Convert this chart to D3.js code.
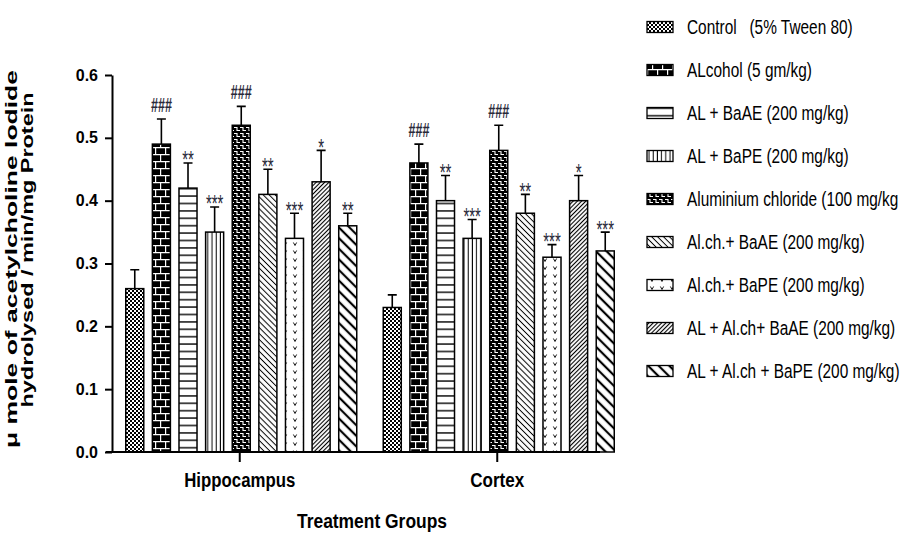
<!DOCTYPE html>
<html>
<head>
<meta charset="utf-8">
<script src="https://cdn.jsdelivr.net/npm/d3@7/dist/d3.min.js"></script>
<style>
  html, body { margin: 0; padding: 0; background: #fff; }
  svg { display: block; font-family: "Liberation Sans", Arial, sans-serif; }
</style>
</head>
<body>
<svg id="chart" width="905" height="533"></svg>
<script>
// Brain regions on the x axis
const groups = ["Hippocampus", "Cortex"];

// Treatment groups (legend order)
const seriesNames = [
  "Control   (5% Tween 80)",
  "ALcohol (5 gm/kg)",
  "AL + BaAE (200 mg/kg)",
  "AL + BaPE (200 mg/kg)",
  "Aluminium chloride (100 mg/kg",
  "Al.ch.+ BaAE (200 mg/kg)",
  "Al.ch.+ BaPE (200 mg/kg)",
  "AL + Al.ch+ BaAE (200 mg/kg)",
  "AL + Al.ch + BaPE (200 mg/kg)"
];

// AChE activity, mean and SEM per treatment
const hippocampusMean = [0.26, 0.49, 0.42, 0.35, 0.52, 0.41, 0.34, 0.43, 0.36];
const hippocampusSem  = [0.03, 0.04, 0.04, 0.04, 0.03, 0.04, 0.04, 0.05, 0.02];
const cortexMean      = [0.23, 0.46, 0.40, 0.34, 0.48, 0.38, 0.31, 0.40, 0.32];
const cortexSem       = [0.02, 0.03, 0.04, 0.03, 0.04, 0.03, 0.02, 0.04, 0.03];

// Significance marks above the error bars
const hippocampusSig = ["", "###", "**", "***", "###", "**", "***", "*", "**"];
const cortexSig      = ["", "###", "**", "***", "###", "**", "***", "*", "***"];

const yTicks = [0, 0.1, 0.2, 0.3, 0.4, 0.5, 0.6];

const rows = [];
groups.forEach((g, gi) => {
  const mean = gi === 0 ? hippocampusMean : cortexMean;
  const sem = gi === 0 ? hippocampusSem : cortexSem;
  const sig = gi === 0 ? hippocampusSig : cortexSig;
  seriesNames.forEach((s, si) => {
    rows.push({ group: g, series: s, idx: si, mean: mean[si], sem: sem[si], sig: sig[si] });
  });
});

const svg = d3.select("#chart");
const defs = svg.append("defs");

function pattern(id, w, h, transform) {
  const p = defs.append("pattern")
    .attr("id", id)
    .attr("patternUnits", "userSpaceOnUse")
    .attr("width", w).attr("height", h);
  if (transform) p.attr("patternTransform", transform);
  return p;
}

// 0: fine checkerboard
{
  const p = pattern("pat0", 4, 4);
  p.append("rect").attr("width", 4).attr("height", 4).attr("fill", "#000");
  p.append("rect").attr("width", 2).attr("height", 2).attr("fill", "#fff");
  p.append("rect").attr("x", 2).attr("y", 2).attr("width", 2).attr("height", 2).attr("fill", "#fff");
}
// 1: brick
{
  const p = pattern("pat1", 10, 14);
  p.append("rect").attr("width", 10).attr("height", 14).attr("fill", "#000");
  p.append("path").attr("d", "M0,0.6H10M0,7.6H10M0.6,0V7M5.6,7V14")
    .attr("stroke", "#fff").attr("stroke-width", 1.2).attr("fill", "none");
}
// 2: horizontal lines
{
  const p = pattern("pat2", 10, 7.4);
  p.append("rect").attr("width", 10).attr("height", 7.4).attr("fill", "#fff");
  p.append("path").attr("d", "M0,3.7H10").attr("stroke", "#000").attr("stroke-width", 1.4);
}
// 3: vertical lines
{
  const p = pattern("pat3", 4.2, 10);
  p.append("rect").attr("width", 4.2).attr("height", 10).attr("fill", "#fff");
  p.append("path").attr("d", "M2,0V10").attr("stroke", "#000").attr("stroke-width", 1);
}
// 4: dark weave
{
  const p = pattern("pat4", 6, 6);
  p.append("rect").attr("width", 6).attr("height", 6).attr("fill", "#000");
  p.append("path").attr("d", "M0,1.5H3V4.5H6").attr("stroke", "#fff").attr("stroke-width", 1.1).attr("fill", "none");
}
// 5: thin back-diagonal
{
  const p = pattern("pat5", 4.2, 4.2, "rotate(-45)");
  p.append("rect").attr("width", 4.2).attr("height", 4.2).attr("fill", "#fff");
  p.append("path").attr("d", "M2.1,0V4.2").attr("stroke", "#000").attr("stroke-width", 1);
}
// 6: scattered v marks
{
  const p = pattern("pat6", 10, 8);
  p.append("rect").attr("width", 10).attr("height", 8).attr("fill", "#fff");
  p.append("path").attr("d", "M3.4,2.5L5,5.5L6.6,2.5").attr("stroke", "#000").attr("stroke-width", 0.9).attr("fill", "none");
}
// 7: dense forward-diagonal
{
  const p = pattern("pat7", 3, 3, "rotate(45)");
  p.append("rect").attr("width", 3).attr("height", 3).attr("fill", "#fff");
  p.append("path").attr("d", "M1.5,0V3").attr("stroke", "#000").attr("stroke-width", 1.1);
}
// 8: wide back-diagonal
{
  const p = pattern("pat8", 7.5, 7.5, "rotate(-45)");
  p.append("rect").attr("width", 7.5).attr("height", 7.5).attr("fill", "#fff");
  p.append("path").attr("d", "M3.75,0V7.5").attr("stroke", "#000").attr("stroke-width", 2.2);
}

const fillFor = i => `url(#pat${i})`;

// Scales
const y = d3.scaleLinear().domain([0, 0.6]).range([452, 75]);
const x0 = d3.scaleBand().domain(groups).range([111, 626]);
const x1 = d3.scaleBand().domain(seriesNames).range([-114, 117]).paddingInner(0.323);
const center = g => x0(g) + x0.bandwidth() / 2;
const barMid = d => center(d.group) + x1(d.series) + x1.bandwidth() / 2;

// Bars
const bars = svg.append("g");
bars.selectAll("rect").data(rows).join("rect")
  .attr("x", d => center(d.group) + x1(d.series))
  .attr("y", d => y(d.mean))
  .attr("width", x1.bandwidth())
  .attr("height", d => y(0) - y(d.mean))
  .attr("fill", d => fillFor(d.idx))
  .attr("stroke", "#000")
  .attr("stroke-width", 1.5);

// Error bars (upper only)
const err = svg.append("g").attr("stroke", "#000").attr("stroke-width", 1.6).attr("fill", "none");
err.selectAll("path").data(rows).join("path")
  .attr("d", d => {
    const cx = barMid(d);
    const top = y(d.mean + d.sem);
    return `M${cx},${y(d.mean)}V${top}M${cx - 4.5},${top}H${cx + 4.5}`;
  });

// Significance labels (tall, narrow glyphs)
svg.append("g").selectAll("text").data(rows.filter(d => d.sig)).join("text")
  .attr("transform", d => {
    const top = y(d.mean + d.sem);
    const base = d.sig[0] === "#" ? top - 7 : top + 5.5;
    return `translate(${barMid(d)},${base}) scale(1,1.6)`;
  })
  .attr("text-anchor", "middle")
  .attr("font-size", d => d.sig[0] === "#" ? 12.6 : 15)
  .attr("font-weight", d => d.sig[0] === "#" ? "bold" : "normal")
  .attr("fill", "#2a2a3a")
  .text(d => d.sig);

// Y axis
const yAxis = svg.append("g").attr("transform", "translate(112,0)")
  .call(d3.axisLeft(y).tickValues(yTicks).tickFormat(d3.format(".1f")).tickSize(7).tickSizeOuter(0));
yAxis.select(".domain").attr("stroke-width", 2);
yAxis.selectAll(".tick line").attr("stroke-width", 2);
yAxis.selectAll(".tick text")
  .attr("x", -14)
  .attr("font-size", 16)
  .attr("font-weight", "bold")
  .attr("font-family", "Liberation Sans, Arial, sans-serif")
  .attr("fill", "#000");

// X axis
const xAxis = svg.append("g").attr("transform", "translate(0,452)")
  .call(d3.axisBottom(x0).tickSize(10).tickSizeOuter(0).tickPadding(14));
xAxis.select(".domain").attr("d", "M106,0H600").attr("stroke-width", 2.2);
xAxis.selectAll(".tick line").attr("stroke-width", 2);
const groupWidths = { "Hippocampus": 111, "Cortex": 54 };
xAxis.selectAll(".tick text")
  .attr("y", 35)
  .attr("dy", 0)
  .attr("font-size", 20)
  .attr("font-weight", "bold")
  .attr("font-family", "Liberation Sans, Arial, sans-serif")
  .attr("fill", "#000")
  .attr("textLength", d => groupWidths[d])
  .attr("lengthAdjust", "spacingAndGlyphs");

// Axis titles
svg.append("text")
  .attr("x", 372).attr("y", 528)
  .attr("text-anchor", "middle")
  .attr("font-size", 20).attr("font-weight", "bold")
  .attr("textLength", 150).attr("lengthAdjust", "spacingAndGlyphs")
  .text("Treatment Groups");

const yTitle = svg.append("g");
yTitle.append("text")
  .attr("transform", "translate(16.5,259) rotate(-90)")
  .attr("text-anchor", "middle")
  .attr("font-size", 17).attr("font-weight", "bold")
  .attr("textLength", 378).attr("lengthAdjust", "spacingAndGlyphs")
  .text("\u03bc mole of acetylcholine Iodide");
yTitle.append("text")
  .attr("transform", "translate(32.5,250) rotate(-90)")
  .attr("text-anchor", "middle")
  .attr("font-size", 17).attr("font-weight", "bold")
  .attr("textLength", 315).attr("lengthAdjust", "spacingAndGlyphs")
  .text("hydrolysed / min/mg Protein");

// Legend
const legend = svg.append("g");
const item = legend.selectAll("g").data(seriesNames).join("g")
  .attr("transform", (d, i) => `translate(647,${26 + 43 * i})`);
item.append("rect")
  .attr("x", 0).attr("y", -4.5)
  .attr("width", 26).attr("height", 11)
  .attr("fill", (d, i) => fillFor(i))
  .attr("stroke", "#000").attr("stroke-width", 1.3);
item.append("text")
  .attr("transform", "translate(40,7.5) scale(0.79,1)")
  .attr("font-size", 19.5)
  .attr("fill", "#000")
  .style("white-space", "pre")
  .text(d => d);
</script>
</body>
</html>
